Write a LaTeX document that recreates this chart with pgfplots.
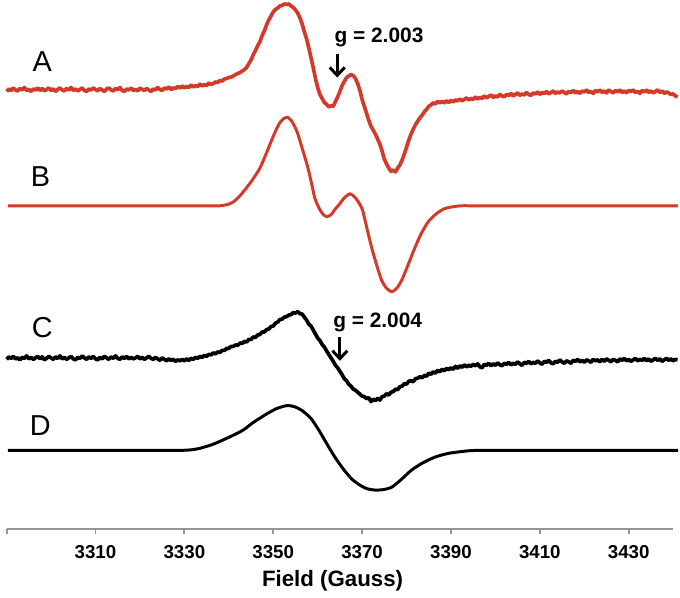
\documentclass[border=0pt]{standalone}
\usepackage{pgfplots}
\pgfplotsset{compat=1.18}
\usepackage{fontspec}
\setmainfont{Liberation Sans}
\usetikzlibrary{arrows.meta}
\definecolor{epred}{RGB}{212,58,42}
\definecolor{axisgray}{RGB}{150,150,150}
\begin{document}
\begin{tikzpicture}
\begin{axis}[
  x=2.235pt, y=0.5pt,
  xmin=3290, xmax=3440, ymin=-532, ymax=0,
  axis x line*=bottom,
  hide y axis,
  axis line style={draw=axisgray, line width=1.1pt},
  xtick={3290,3310,3330,3350,3370,3390,3410,3430},
  xticklabels={,3310,3330,3350,3370,3390,3410,3430},
  tick align=outside, major tick length=2.5pt,
  tick style={draw=axisgray, line width=1pt},
  xticklabel style={font=\bfseries\fontsize{9.4}{10}\selectfont, anchor=center, yshift=-9pt},
  xlabel={Field (Gauss)},
  xlabel style={font=\bfseries\fontsize{11.2}{12}\selectfont, at={(axis description cs:0.489,0)}, anchor=center, yshift=-26pt},
  clip=false,
  every axis plot/.append style={line width=1.5pt, line join=round},
  noisy/.style={line width=1.85pt},
  simcurve/.style={smooth, tension=0.4},
]
% invisible frame that fixes the picture's extent
\path (axis cs:3289.42,-594) rectangle (axis cs:3441.54,0);

% A: experimental (red, noisy)
\addplot[epred, noisy] table {
3290 -92
3290.5 -89.5
3291 -91
3291.5 -88.5
3292 -90.5
3292.5 -91.5
3293 -89
3293.5 -90.5
3294 -88
3294.5 -91
3295 -90
3295.5 -92
3296 -89.5
3296.5 -90.5
3297 -88.5
3297.5 -91
3298 -89
3298.5 -91.5
3299 -90
3299.5 -88.5
3300 -91
3300.5 -89.5
3301 -92
3301.5 -90
3302 -88.5
3302.5 -90.5
3303 -91.5
3303.5 -89
3304 -90.5
3304.5 -88
3305 -91
3305.5 -89.5
3306 -91.5
3306.5 -90
3307 -88.5
3307.5 -91
3308 -92
3308.5 -89.5
3309 -90.5
3309.5 -88.5
3310 -90
3310.5 -91.5
3311 -89
3311.5 -90.5
3312 -92
3312.5 -89.5
3313 -88.5
3313.5 -90.5
3314 -91.5
3314.5 -89
3315 -90
3315.5 -88
3316 -91
3316.5 -92
3317 -89.5
3317.5 -90.5
3318 -88.5
3318.5 -91
3319 -90
3319.5 -91.5
3320 -88.5
3320.5 -90
3321 -91
3321.5 -89
3322 -90.5
3322.5 -92
3323 -89.5
3323.5 -90.5
3324 -88
3324.5 -90
3325 -91
3325.5 -88.5
3326 -89.5
3326.5 -87.5
3327 -90
3327.5 -88.5
3328 -89
3328.5 -87
3329 -88.5
3329.5 -86.5
3330 -88.5
3330.5 -87
3331 -88
3331.5 -85.5
3332 -87.5
3332.5 -86
3333 -87
3333.5 -84.5
3334 -86.5
3334.5 -85
3335 -86
3335.5 -83.5
3336 -85
3336.5 -84
3337 -82.5
3337.5 -83
3338 -81
3338.5 -81.5
3339 -79.5
3339.5 -79
3340 -78
3340.5 -77.5
3341 -76.5
3341.5 -75
3342 -74
3342.5 -73
3343 -71.5
3343.5 -70
3344 -68
3344.5 -64
3345 -60.5
3345.5 -55
3346 -51
3346.5 -46
3347 -42
3347.5 -36
3348 -31
3348.5 -25
3349 -20
3349.5 -16
3350 -12
3350.5 -9.5
3351 -8
3351.5 -6
3352 -5.5
3352.5 -4
3353 -4.5
3353.5 -4
3354 -6
3354.5 -7.5
3355 -10
3355.5 -13
3356 -18
3356.5 -24
3357 -32
3357.5 -39
3358 -48
3358.5 -58
3359 -68
3359.5 -79
3360 -88
3360.5 -95
3361 -99
3361.5 -103
3362 -105
3362.5 -107.5
3363 -106.5
3363.5 -107
3364 -102
3364.5 -97.5
3365 -92
3365.5 -86
3366 -82
3366.5 -78
3367 -76.5
3367.5 -75
3368 -76
3368.5 -79
3369 -84
3369.5 -91
3370 -100
3370.5 -107
3371 -114
3371.5 -121
3372 -127
3372.5 -131
3373 -135
3373.5 -140
3374 -145
3374.5 -152
3375 -160
3375.5 -165
3376 -169
3376.5 -172.5
3377 -171
3377.5 -173
3378 -169
3378.5 -166
3379 -161
3379.5 -155
3380 -148
3380.5 -141
3381 -135
3381.5 -130
3382 -125.5
3382.5 -122
3383 -118.5
3383.5 -116
3384 -112.5
3384.5 -110
3385 -107
3385.5 -105.5
3386 -103.5
3386.5 -104.5
3387 -102
3387.5 -103.5
3388 -102
3388.5 -103.5
3389 -101.5
3389.5 -103
3390 -101
3390.5 -102.5
3391 -100.5
3391.5 -101.5
3392 -99.5
3392.5 -101.5
3393 -100
3393.5 -98.5
3394 -100.5
3394.5 -99
3395 -100
3395.5 -97.5
3396 -99.5
3396.5 -98
3397 -99
3397.5 -96.5
3398 -98.5
3398.5 -97
3399 -95.5
3399.5 -98
3400 -96.5
3400.5 -97.5
3401 -95
3401.5 -96.5
3402 -97.5
3402.5 -95
3403 -96
3403.5 -94
3404 -96.5
3404.5 -95
3405 -93.5
3405.5 -96
3406 -94.5
3406.5 -95.5
3407 -93
3407.5 -95
3408 -96
3408.5 -93.5
3409 -94.5
3409.5 -92.5
3410 -95
3410.5 -93
3411 -94
3411.5 -92
3412 -94.5
3412.5 -93
3413 -91.5
3413.5 -94
3414 -92.5
3414.5 -93.5
3415 -91.5
3415.5 -93
3416 -94.5
3416.5 -92
3417 -93
3417.5 -91
3418 -93.5
3418.5 -92
3419 -94
3419.5 -91.5
3420 -92.5
3420.5 -90.5
3421 -93
3421.5 -92
3422 -94
3422.5 -91
3423 -92.5
3423.5 -90.5
3424 -93
3424.5 -91.5
3425 -93.5
3425.5 -90.5
3426 -92
3426.5 -93.5
3427 -91
3427.5 -92.5
3428 -90.5
3428.5 -93
3429 -91.5
3429.5 -93.5
3430 -91
3430.5 -92
3431 -90.5
3431.5 -93
3432 -92
3432.5 -94
3433 -91
3433.5 -92.5
3434 -90.5
3434.5 -93
3435 -91.5
3435.5 -93.5
3436 -92
3436.5 -90.5
3437 -93
3437.5 -91.5
3438 -94
3438.5 -92.5
3439 -93.5
3439.5 -95
3440 -94.5
3440.5 -96.5
3441 -97.5
};

% B: simulation (red, smooth)
\addplot[epred, simcurve] table {
3290.3 -207
3300 -207
3310 -207
3320 -207
3330 -207
3334 -207
3336.5 -207
3338.0 -207
3339.5 -206
3340.9 -203.5
3342.3 -198
3343.8 -190
3345.3 -181
3346.9 -170
3348.0 -159
3349.1 -147
3350.3 -134
3351.4 -124
3352.3 -119.5
3353.2 -118
3354.2 -122
3355.4 -133
3356.5 -149
3357.7 -167
3358.6 -184
3359.4 -200
3360.5 -211
3361.3 -216
3362.1 -218
3363.0 -216
3364.0 -210
3364.8 -206
3366.0 -199
3367.3 -195
3368.5 -199
3370.0 -210
3371.1 -230
3372.2 -250
3373.3 -267
3374.4 -282
3375.5 -290
3376.7 -293.5
3377.8 -290
3378.9 -282
3380.3 -267
3381.8 -250
3383.3 -235
3384.9 -223
3386.7 -215
3388.5 -210
3390.4 -208
3392.3 -207
3394 -207
3396.5 -207
3400 -207
3410 -207
3420 -207
3430 -207
3441.1 -207
};

% C: experimental (black, noisy)
\addplot[black, noisy] table {
3290 -361.5
3290.5 -359
3291 -360.5
3291.5 -358.5
3292 -361
3292.5 -360
3293 -362
3293.5 -359.5
3294 -360.5
3294.5 -358
3295 -361
3295.5 -359.5
3296 -361.5
3296.5 -360
3297 -358.5
3297.5 -361
3298 -359
3298.5 -362
3299 -360.5
3299.5 -358.5
3300 -360
3300.5 -361.5
3301 -359
3301.5 -360.5
3302 -358
3302.5 -361
3303 -359.5
3303.5 -361.5
3304 -360
3304.5 -358.5
3305 -361
3305.5 -362
3306 -359.5
3306.5 -360.5
3307 -358
3307.5 -360
3308 -361.5
3308.5 -359
3309 -360.5
3309.5 -358.5
3310 -361
3310.5 -362
3311 -359.5
3311.5 -361
3312 -358.5
3312.5 -360
3313 -361.5
3313.5 -359
3314 -360.5
3314.5 -358
3315 -360.5
3315.5 -361.5
3316 -359
3316.5 -360.5
3317 -358.5
3317.5 -361
3318 -359.5
3318.5 -361
3319 -360
3319.5 -358.5
3320 -361
3320.5 -359.5
3321 -361.5
3321.5 -360
3322 -358.5
3322.5 -360.5
3323 -361.5
3323.5 -359.5
3324 -361
3324.5 -362.5
3325 -360
3325.5 -361.5
3326 -363
3326.5 -361
3327 -362.5
3327.5 -361.5
3328 -363.5
3328.5 -362
3329 -363
3329.5 -361.5
3330 -363
3330.5 -361
3331 -362.5
3331.5 -360.5
3332 -361.5
3332.5 -359.5
3333 -360.5
3333.5 -358.5
3334 -359.5
3334.5 -357.5
3335 -358.5
3335.5 -356.5
3336 -357
3336.5 -355
3337 -356
3337.5 -354
3338 -354.5
3338.5 -352.5
3339 -352.5
3339.5 -350.5
3340 -350.5
3340.5 -348.5
3341 -348.5
3341.5 -347
3342 -347.5
3342.5 -345
3343 -345.5
3343.5 -343.5
3344 -344
3344.5 -341.5
3345 -341.5
3345.5 -339
3346 -339.5
3346.5 -337
3347 -336.5
3347.5 -334
3348 -334
3348.5 -331.5
3349 -331
3349.5 -328.5
3350 -328
3350.5 -325
3351 -324
3351.5 -321.5
3352 -321
3352.5 -319
3353 -318.5
3353.5 -317
3354 -316.5
3354.5 -314.5
3355 -315
3355.5 -313.5
3356 -315.5
3356.5 -316
3357 -319
3357.5 -322
3358 -326
3358.5 -328
3359 -332
3359.5 -336
3360 -340
3360.5 -342.5
3361 -346.5
3361.5 -349
3362 -353
3362.5 -356.5
3363 -360
3363.5 -363.5
3364 -367.5
3364.5 -370
3365 -373.5
3365.5 -377
3366 -381
3366.5 -383
3367 -386.5
3367.5 -388.5
3368 -391.5
3368.5 -392.5
3369 -394.5
3369.5 -396.5
3370 -398.5
3370.5 -399
3371 -401
3371.5 -400
3372 -404
3372.5 -401.5
3373 -403
3373.5 -400.5
3374 -402.5
3374.5 -399
3375 -398.5
3375.5 -396
3376 -397.5
3376.5 -394.5
3377 -394
3377.5 -391.5
3378 -392
3378.5 -389
3379 -388.5
3379.5 -386
3380 -386.5
3380.5 -383.5
3381 -383
3381.5 -384
3382 -381
3382.5 -380.5
3383 -379
3383.5 -380
3384 -377.5
3384.5 -378.5
3385 -375.5
3385.5 -376.5
3386 -374
3386.5 -375.5
3387 -372.5
3387.5 -374
3388 -371.5
3388.5 -373
3389 -370.5
3389.5 -372
3390 -370
3390.5 -371.5
3391 -368.5
3391.5 -370.5
3392 -368
3392.5 -369.5
3393 -367
3393.5 -369
3394 -367.5
3394.5 -368.5
3395 -366.5
3395.5 -368
3396 -366
3396.5 -369
3397 -370
3397.5 -366.5
3398 -367.5
3398.5 -365.5
3399 -368
3399.5 -366
3400 -367.5
3400.5 -365
3401 -367
3401.5 -368
3402 -365.5
3402.5 -366.5
3403 -364.5
3403.5 -367
3404 -365.5
3404.5 -366.5
3405 -364
3405.5 -366
3406 -367.5
3406.5 -364.5
3407 -365.5
3407.5 -363.5
3408 -366
3408.5 -364.5
3409 -365.5
3409.5 -363
3410 -365
3410.5 -366.5
3411 -363.5
3411.5 -364.5
3412 -362.5
3412.5 -365
3413 -366
3413.5 -363.5
3414 -364.5
3414.5 -362
3415 -364
3415.5 -365.5
3416 -363
3416.5 -364
3417 -365.5
3417.5 -362.5
3418 -363.5
3418.5 -361.5
3419 -364
3419.5 -362.5
3420 -364.5
3420.5 -362
3421 -363
3421.5 -364.5
3422 -361.5
3422.5 -363
3423 -362
3423.5 -364
3424 -361.5
3424.5 -363.5
3425 -361
3425.5 -362.5
3426 -364
3426.5 -361.5
3427 -362.5
3427.5 -364
3428 -361
3428.5 -362.5
3429 -360.5
3429.5 -363
3430 -361.5
3430.5 -363.5
3431 -362
3431.5 -360.5
3432 -363
3432.5 -361.5
3433 -362.5
3433.5 -360.5
3434 -363
3434.5 -361
3435 -363.5
3435.5 -362
3436 -360.5
3436.5 -362.5
3437 -361
3437.5 -363.5
3438 -362
3438.5 -360.5
3439 -362.5
3439.5 -361
3440 -363
3440.5 -361.5
3441 -362
};

% D: simulation (black, smooth)
\addplot[black, simcurve] table {
3290.3 -453
3300 -453
3310 -453
3320 -453
3325 -453
3328 -453
3329.7 -453
3331.5 -452.5
3333.5 -451
3336.4 -447
3339.5 -441
3343.1 -433
3345.5 -425
3348.3 -417
3350.5 -411.5
3352.5 -408.5
3353.6 -408
3355.0 -409.5
3356.5 -413
3358.5 -421
3360.3 -433
3362.0 -446
3363.9 -460
3365.8 -472
3367.7 -482
3369.5 -488
3371.0 -491.5
3372.9 -493
3374.8 -492.5
3376.7 -490
3378.9 -482
3381.1 -473
3383.5 -466
3386.3 -460
3389.5 -456
3393.9 -453.5
3396.8 -453
3399 -453
3402 -453
3410 -453
3420 -453
3430 -453
3441.1 -453
};

% trace labels
\node[font=\fontsize{14.5}{16}\selectfont] at (axis cs:3298.0,-62) {A};
\node[font=\fontsize{14.5}{16}\selectfont] at (axis cs:3297.6,-178) {B};
\node[font=\fontsize{14.5}{16}\selectfont] at (axis cs:3298.0,-330) {C};
\node[font=\fontsize{14.5}{16}\selectfont] at (axis cs:3297.6,-428) {D};

% g-value annotations
\node[font=\bfseries\fontsize{10.5}{12}\selectfont, anchor=base] at (axis cs:3373.8,-43) {g = 2.003};
\draw[line width=1.5pt, -{Straight Barb[length=4pt,width=7.5pt]}] (axis cs:3364.4,-54) -- (axis cs:3364.4,-78);
\node[font=\bfseries\fontsize{10.5}{12}\selectfont, anchor=base] at (axis cs:3373.5,-329) {g = 2.004};
\draw[line width=1.5pt, -{Straight Barb[length=4pt,width=7.5pt]}] (axis cs:3365.0,-339) -- (axis cs:3365.0,-363);
\end{axis}
\end{tikzpicture}
\end{document}
